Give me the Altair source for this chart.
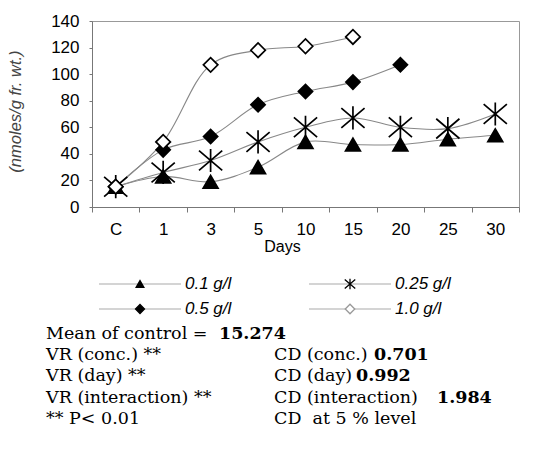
import altair as alt
import pandas as pd

# ---- data ----
days = ["C", "1", "3", "5", "10", "15", "20", "25", "30"]
series = ["0.1 g/l", "0.25 g/l", "0.5 g/l", "1.0 g/l"]
conc_01 = [15.3, 23, 19, 30, 49, 47, 47, 51, 54]
conc_025 = [15.3, 26, 35, 49, 60, 67, 60, 59, 70]
conc_05 = [15.3, 43, 53, 77, 87, 94, 107]
conc_10 = [15.3, 49, 107, 118, 121, 128]
y_ticks = [0, 20, 40, 60, 80, 100, 120, 140]
legend_col = [0, 1, 0, 1]
legend_row = [0, 0, 1, 1]

notes_left = ["Mean of control = ", "VR (conc.) **", "VR (day) **",
              "VR (interaction) **", "** P< 0.01"]
notes_right = ["", "CD (conc.)", "CD (day)", "CD (interaction)", "CD\u00a0 at 5 % level"]
bold_left = "15.274"
bold_right = ["0.701", "0.992", "1.984"]

rows = []
for s, vals in zip(series, [conc_01, conc_025, conc_05, conc_10]):
    for d, v in zip(days, vals):
        rows.append({"day": d, "value": v, "series": s})
df = pd.DataFrame(rows)

legend_df = pd.DataFrame({"series": series, "col": legend_col, "row": legend_row})

STAR = "M-1,-0.85L1,0.85M-1,0.85L1,-0.85M0,-1L0,1"
styles = {
    "0.1 g/l": dict(shape="triangle-up", fill="black", stroke="black", size=220, lsize=60, lstroke="black"),
    "0.25 g/l": dict(shape=STAR, fill="black", stroke="black", size=540, lsize=110, lstroke="black"),
    "0.5 g/l": dict(shape="diamond", fill="black", stroke="black", size=200, lsize=80, lstroke="black"),
    "1.0 g/l": dict(shape="diamond", fill="white", stroke="black", size=210, lsize=90, lstroke="#999"),
}

W, H = 427, 186

x_enc = alt.X(
    "day:O", sort=days,
    scale=alt.Scale(type="band", domain=days, paddingInner=0, paddingOuter=0),
    bandPosition=0.5,
    axis=alt.Axis(
        title="Days", tickBand="extent", tickSize=5, labelPadding=9, labelAngle=0,
        labelFontSize=17, labelFont="Liberation Sans", labelColor="black",
        grid=False, domainColor="#777", tickColor="#777",
        titleFont="Liberation Sans", titleFontSize=16, titleFontWeight="normal",
        titleColor="black", titleX=190, titleY=39, titleBaseline="middle",
    ),
)
y_enc = alt.Y(
    "value:Q",
    scale=alt.Scale(domain=[0, 140], nice=False),
    axis=alt.Axis(
        values=y_ticks, grid=False, tickSize=3, labelPadding=10,
        labelFontSize=17, labelFont="Liberation Sans", labelColor="black",
        domainColor="#777", tickColor="#777",
        title="(nmoles/g fr. wt.)", titleFont="Liberation Sans", titleFontStyle="italic",
        titleFontSize=16.5, titleFontWeight="normal", titleColor="#444",
        titleX=-77, titleY=90, titleAngle=270, titleAlign="center", titleBaseline="middle",
    ),
)

base = alt.Chart(df)
main_layers = [
    base.mark_line(interpolate="catmull-rom", color="#888", strokeWidth=1.1).encode(
        x=x_enc, y=y_enc, detail="series:N")
]
for s in series:
    st = styles[s]
    main_layers.append(
        base.transform_filter(alt.datum.series == s).mark_point(
            shape=st["shape"], filled=True, fill=st["fill"], stroke=st["stroke"],
            strokeWidth=1.7, size=st["size"], opacity=1,
        ).encode(x=x_enc, y=y_enc)
    )
main = alt.layer(*main_layers)

lx = alt.X("col:Q", scale=alt.Scale(domain=[0, 1], range=[48, 258], nice=False, zero=False), axis=None)
ly = alt.Y("row:Q", scale=alt.Scale(domain=[0, 1], range=[263, 288], nice=False, zero=False), axis=None)
lbase = alt.Chart(legend_df)
legend_layers = [
    lbase.mark_tick(orient="horizontal", size=82, thickness=1, color="#888").encode(x=lx, y=ly)
]
for s in series:
    st = styles[s]
    legend_layers.append(
        lbase.transform_filter(alt.datum.series == s).mark_point(
            shape=st["shape"], filled=True, fill=st["fill"], stroke=st["lstroke"],
            strokeWidth=1.3, size=st["lsize"], opacity=1,
        ).encode(x=lx, y=ly)
    )
legend_layers.append(
    lbase.mark_text(align="left", baseline="middle", dx=45, font="Liberation Sans",
                    fontStyle="italic", fontSize=17, color="black").encode(
        x=lx, y=ly, text="series:N")
)
legend = alt.layer(*legend_layers)

NOTE_FONT = "DejaVu Serif"
NOTE_SIZE = 17.5
row_y = [313, 334, 355, 377, 398]
RIGHT_X = 182


def note(txt, x, y, bold=False):
    return alt.Chart(alt.Data(values=[{}])).mark_text(
        text=txt, align="left", baseline="middle", font=NOTE_FONT, fontSize=NOTE_SIZE,
        fontWeight="bold" if bold else "normal", color="black",
    ).encode(x=alt.value(x), y=alt.value(y))


notes = []
for i, t in enumerate(notes_left):
    notes.append(note(t, -46, row_y[i]))
for i, t in enumerate(notes_right):
    if t:
        notes.append(note(t, RIGHT_X, row_y[i]))
notes.append(note(bold_left, 127, row_y[0], True))
for xpos, t, yi in zip([282, 264, 345], bold_right, [1, 2, 3]):
    notes.append(note(t, xpos, row_y[yi], True))

chart = alt.layer(main, legend, *notes).resolve_scale(
    x="independent", y="independent"
).properties(
    width=W, height=H,
    padding={"left": 92, "top": 21, "right": 15, "bottom": 244},
    autosize=alt.AutoSizeParams(type="none"),
    background="white",
).configure_view(stroke="#999", strokeWidth=1)

chart.save("out.html", embed_options={"renderer": "svg", "actions": False})
